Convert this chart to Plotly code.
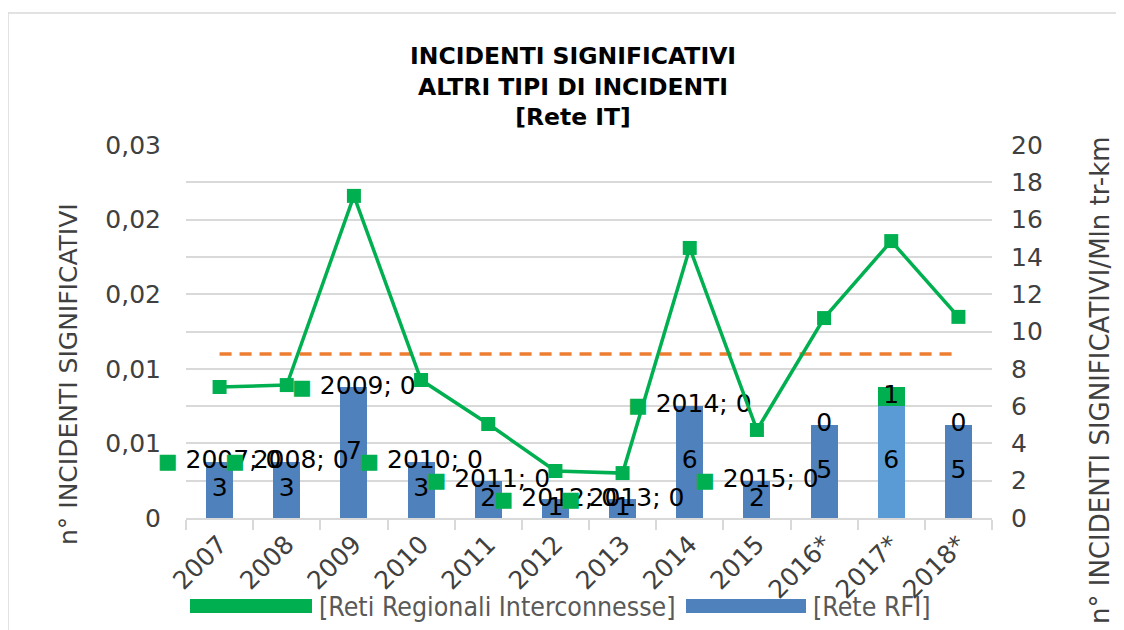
import plotly.graph_objects as go

categories = ["2007", "2008", "2009", "2010", "2011", "2012", "2013", "2014", "2015", "2016*", "2017*", "2018*"]
rete_rfi = [3, 3, 7, 3, 2, 1, 1, 6, 2, 5, 6, 5]
reti_regionali = [0, 0, 0, 0, 0, 0, 0, 0, 0, 0, 1, 0]
tasso = [0.00878, 0.00891, 0.02159, 0.00925, 0.0063, 0.00315, 0.00301, 0.0181, 0.0059, 0.0134, 0.01856, 0.01348]
media = [0.0110] * 12
left_tickvals = [0, 0.005, 0.01, 0.015, 0.02, 0.025]
left_ticktext = ["0", "0,01", "0,01", "0,02", "0,02", "0,03"]
right_tickvals = [0, 2, 4, 6, 8, 10, 12, 14, 16, 18, 20]

BLUE = "#4F81BD"
LIGHT_BLUE = "#5B9BD5"
GREEN = "#00B050"
ORANGE = "#ED7D31"
GRID = "#D9D9D9"
FONT = "DejaVu Sans"

OFF = 8  # page body margin
W, H = 1124 - OFF, 630 - OFF
# plot area in page pixels
L, R, T, B = 186, 992, 145, 518


def px(x):
    return (x - L) / (R - L)


def py(y):
    return (B - y) / (B - T)


rfi_colors = [LIGHT_BLUE if c == "2017*" else BLUE for c in categories]

fig = go.Figure()

fig.add_trace(go.Bar(x=categories, y=rete_rfi, marker=dict(color=rfi_colors, line=dict(width=0)),
                     width=0.4, yaxis="y", name="[Rete RFI]", showlegend=False))
fig.add_trace(go.Bar(x=categories, y=reti_regionali, marker=dict(color=GREEN, line=dict(width=0)),
                     width=0.4, yaxis="y", name="[Reti Regionali Interconnesse]", showlegend=False))

fig.add_trace(go.Scatter(x=categories, y=[v / 2 for v in rete_rfi], mode="text",
                         text=[str(v) for v in rete_rfi], textposition="middle center",
                         textfont=dict(family=FONT, size=25, color="#000000"),
                         yaxis="y", showlegend=False, hoverinfo="skip", cliponaxis=False))
rr_labels = []
for c, v in zip(categories, reti_regionali):
    if c.endswith("*"):
        rr_labels.append(str(v))
    else:
        rr_labels.append("<span style='color:%s;font-size:21px'>■</span> %s; %d" % (GREEN, c, v))
fig.add_trace(go.Scatter(x=categories, y=[a + b / 2 for a, b in zip(rete_rfi, reti_regionali)], mode="text",
                         text=rr_labels, textposition="middle center",
                         textfont=dict(family=FONT, size=25, color="#000000"),
                         yaxis="y", showlegend=False, hoverinfo="skip", cliponaxis=False))

fig.add_trace(go.Scatter(x=categories, y=media, mode="lines",
                         line=dict(color=ORANGE, width=3.5, dash="12px,8px"),
                         yaxis="y2", showlegend=False, hoverinfo="skip"))
fig.add_trace(go.Scatter(x=categories, y=tasso, mode="lines+markers",
                         line=dict(color=GREEN, width=3.5),
                         marker=dict(symbol="square", size=14, color=GREEN),
                         yaxis="y2", showlegend=False, cliponaxis=False))

fig.update_layout(
    width=W, height=H,
    margin=dict(l=L - OFF, r=W - (R - OFF), t=T - OFF, b=H - (B - OFF), autoexpand=False),
    paper_bgcolor="white", plot_bgcolor="white",
    barmode="stack",
    font=dict(family=FONT, color="#404040"),
    xaxis=dict(type="category", range=[-0.5, 11.5], showline=True, linecolor=GRID, linewidth=1.5,
               ticks="outside", tickson="boundaries", ticklen=10, tickcolor=GRID, tickwidth=1.5,
               tickangle=-45, tickfont=dict(family=FONT, size=25, color="#404040"),
               showgrid=False, automargin=False),
    yaxis=dict(side="right", range=[0, 20], tickvals=right_tickvals,
               showgrid=True, gridcolor=GRID, gridwidth=1.5, zeroline=False,
               tickfont=dict(family=FONT, size=25, color="#404040"),
               ticklabelstandoff=18, automargin=False),
    yaxis2=dict(side="left", overlaying="y", range=[0, 0.025], tickvals=left_tickvals,
                ticktext=left_ticktext, showgrid=False, zeroline=False,
                tickfont=dict(family=FONT, size=25, color="#404040"),
                ticklabelstandoff=24, automargin=False),
    showlegend=False,
)

annotations = [
    dict(text="<b>INCIDENTI SIGNIFICATIVI<br>ALTRI TIPI DI INCIDENTI<br>[Rete IT]</b>",
         x=px(573), y=py(40), xref="paper", yref="paper", showarrow=False,
         xanchor="center", yanchor="top", align="center",
         font=dict(family=FONT, size=23.5, color="#000000")),
    dict(text="n° INCIDENTI SIGNIFICATIVI", x=px(68), y=py(374), xref="paper", yref="paper",
         textangle=-90, showarrow=False, xanchor="center", yanchor="middle",
         font=dict(family=FONT, size=25, color="#404040")),
    dict(text="n° INCIDENTI SIGNIFICATIVI/Mln tr-km", x=px(1100), y=py(380), xref="paper", yref="paper",
         textangle=-90, showarrow=False, xanchor="center", yanchor="middle",
         font=dict(family=FONT, size=26, color="#404040")),
    dict(text="[Reti Regionali Interconnesse]", x=px(317), y=py(606), xref="paper", yref="paper",
         showarrow=False, xanchor="left", yanchor="middle",
         font=dict(family="DejaVu Sans Condensed", size=26.5, color="#595959")),
    dict(text="[Rete RFI]", x=px(811), y=py(606), xref="paper", yref="paper",
         showarrow=False, xanchor="left", yanchor="middle",
         font=dict(family="DejaVu Sans Condensed", size=26.5, color="#595959")),
]
fig.update_layout(annotations=annotations)

shapes = [
    dict(type="rect", xref="paper", yref="paper", x0=px(8), x1=px(1121), y0=py(13), y1=py(660),
         line=dict(color=GRID, width=1.5), fillcolor="rgba(0,0,0,0)", layer="below"),
    dict(type="rect", xref="paper", yref="paper", x0=px(190), x1=px(312), y0=py(599), y1=py(613),
         line=dict(width=0), fillcolor=GREEN),
    dict(type="rect", xref="paper", yref="paper", x0=px(686), x1=px(806), y0=py(599), y1=py(613),
         line=dict(width=0), fillcolor=BLUE),
]
fig.update_layout(shapes=shapes)

fig.write_html("out.html")
